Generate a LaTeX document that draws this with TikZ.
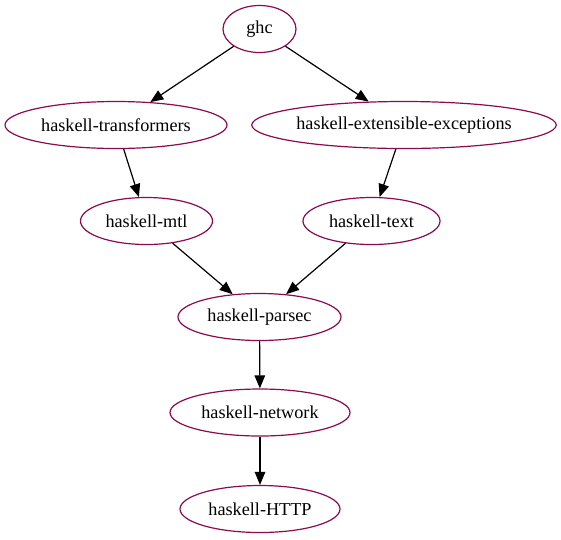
\documentclass[tikz,border=0pt]{standalone}
\usepackage{fontspec}
\setmainfont{Liberation Serif}
\usetikzlibrary{shapes.geometric,arrows.meta}
\definecolor{nodeborder}{RGB}{139,10,80}
\tikzset{
  pkg/.style={draw=nodeborder, line width=1.2pt, ellipse, inner sep=0pt, minimum height=47pt,
    font=\fontsize{18.2pt}{22pt}\selectfont},
  dep/.style={draw=black, line width=1.2pt, -{Triangle[length=13pt,width=10.5pt]}}
}
\begin{document}
\begin{tikzpicture}[x=1pt,y=-1pt]
\useasboundingbox (0,0) rectangle (561,539);
\node[pkg, minimum width=73pt]  (ghc)  at (259.5,29)  {ghc};
\node[pkg, minimum width=222pt] (tr)   at (116,125)   {haskell-transformers};
\node[pkg, minimum width=302pt] (ex)   at (404,125)   {haskell-extensible-exceptions};
\node[pkg, minimum width=132pt] (mtl)  at (146.5,221) {haskell-mtl};
\node[pkg, minimum width=137pt] (txt)  at (371.5,221) {haskell-text};
\node[pkg, minimum width=163pt] (par)  at (259.5,317) {haskell-parsec};
\node[pkg, minimum width=180pt] (net)  at (260,412.5) {haskell-network};
\node[pkg, minimum width=160pt] (http) at (260,509)   {haskell-HTTP};
\draw[dep] (ghc) -- (tr);
\draw[dep] (ghc) -- (ex);
\draw[dep] (tr) -- (mtl);
\draw[dep] (ex) -- (txt);
\draw[dep] (mtl) -- (par);
\draw[dep] (txt) -- (par);
\draw[dep] (par) -- (net);
\draw[dep] (net) -- (http);
\end{tikzpicture}
\end{document}
